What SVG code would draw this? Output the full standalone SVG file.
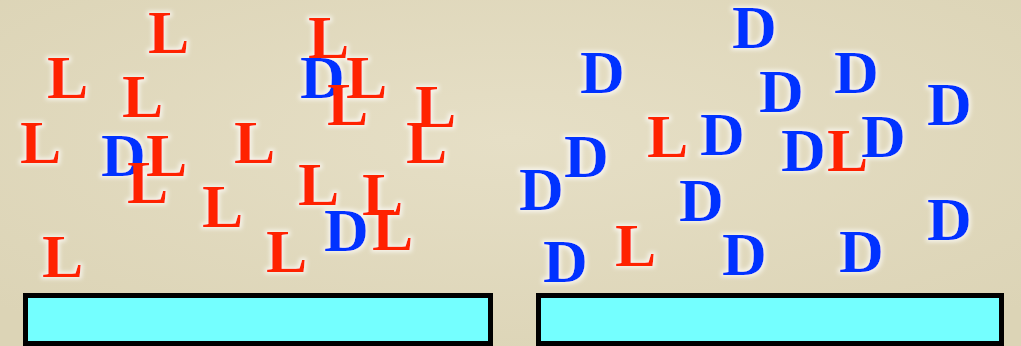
<svg xmlns="http://www.w3.org/2000/svg" width="1021" height="346" viewBox="0 0 1021 346">
<defs>
<radialGradient id="bg" cx="50%" cy="40%" r="70%">
<stop offset="0" stop-color="#e6dfc6"/>
<stop offset="1" stop-color="#dcd4b6"/>
</radialGradient>
<filter id="glow" x="-20%" y="-20%" width="140%" height="140%">
<feMorphology in="SourceAlpha" operator="dilate" radius="1.5" result="d"/>
<feGaussianBlur in="d" stdDeviation="2" result="b"/>
<feFlood flood-color="#ffffff" flood-opacity="0.7"/>
<feComposite in2="b" operator="in" result="g"/>
<feMerge><feMergeNode in="g"/><feMergeNode in="SourceGraphic"/></feMerge>
</filter>
</defs>
<style>
text{font-family:"Liberation Serif","Times New Roman",serif;font-weight:bold;font-size:62px;}
.L{fill:#ff2200;}
.D{fill:#0033ff;}
.bar{fill:#74ffff;stroke:#000;stroke-width:5;}
</style>
<rect x="0" y="0" width="1021" height="346" fill="url(#bg)"/>
<g id="left-letters" filter="url(#glow)">
<text class="L" x="148" y="53">L</text>
<text class="L" x="308" y="58">L</text>
<text class="D" x="300" y="98">D</text>
<text class="L" x="346" y="98">L</text>
<text class="L" x="47" y="98">L</text>
<text class="L" x="122" y="117">L</text>
<text class="L" x="327" y="125">L</text>
<text class="L" x="415" y="127">L</text>
<text class="L" x="20" y="163">L</text>
<text class="L" x="234" y="163">L</text>
<text class="L" x="406" y="163">L</text>
<text class="D" x="101" y="176">D</text>
<text class="L" x="146" y="176">L</text>
<text class="L" x="127" y="203">L</text>
<text class="L" x="298" y="205">L</text>
<text class="L" x="362" y="215">L</text>
<text class="L" x="202" y="227">L</text>
<text class="D" x="324" y="251">D</text>
<text class="L" x="372" y="250">L</text>
<text class="L" x="42" y="277">L</text>
<text class="L" x="266" y="272">L</text>
</g>
<g id="right-letters" filter="url(#glow)">
<text class="D" x="732" y="48">D</text>
<text class="D" x="580" y="93">D</text>
<text class="D" x="834" y="93">D</text>
<text class="D" x="759" y="112">D</text>
<text class="D" x="927" y="125">D</text>
<text class="L" x="647" y="157">L</text>
<text class="D" x="700" y="155">D</text>
<text class="D" x="781" y="171">D</text>
<text class="L" x="827" y="171">L</text>
<text class="D" x="861" y="157">D</text>
<text class="D" x="564" y="177">D</text>
<text class="D" x="519" y="210">D</text>
<text class="D" x="679" y="221">D</text>
<text class="D" x="927" y="240">D</text>
<text class="D" x="543" y="282">D</text>
<text class="L" x="615" y="266">L</text>
<text class="D" x="722" y="275">D</text>
<text class="D" x="839" y="272">D</text>
</g>
<g id="left-bar"><rect class="bar" x="25.5" y="295.5" width="465" height="48"/></g>
<g id="right-bar"><rect class="bar" x="538.5" y="295.5" width="463" height="48"/></g>
</svg>
